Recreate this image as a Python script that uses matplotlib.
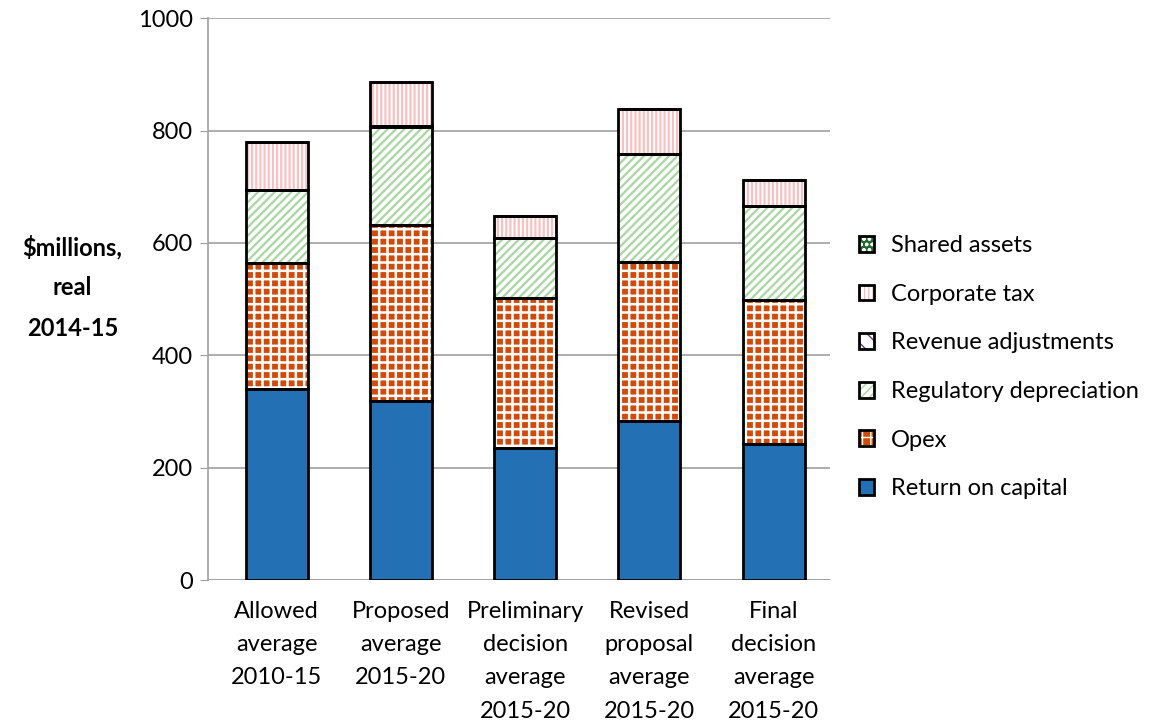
import numpy as np
import matplotlib.pyplot as plt
from matplotlib.legend_handler import HandlerTuple

plt.rcParams['font.family'] = ['Lato', 'DejaVu Sans']

categories = ["Allowed\naverage\n2010-15", "Proposed\naverage\n2015-20",
              "Preliminary\ndecision\naverage\n2015-20", "Revised\nproposal\naverage\n2015-20",
              "Final\ndecision\naverage\n2015-20"]
return_on_capital = [340, 318, 235, 283, 242]
opex = [224, 314, 267, 283, 256]
reg_depreciation = [130, 174, 106, 192, 167]
revenue_adj = [0, 3, 0, 0, 0]
corporate_tax = [85, 77, 40, 80, 47]
shared_assets = [0, 0, 0, 0, 0]

# name, values, facecolor, hatch, hatch colour, hatch width
series = [
    ("Return on capital", return_on_capital, '#2370B5', None, '#2370B5', 1.0),
    ("Opex", opex, '#D24A0A', '++', 'white', 1.8),
    ("Regulatory depreciation", reg_depreciation, 'white', '////', '#A6D8A0', 1.6),
    ("Revenue adjustments", revenue_adj, 'white', '\\\\', '#5B3F8F', 2.0),
    ("Corporate tax", corporate_tax, 'white', '||||', '#F9C0C0', 1.6),
    ("Shared assets", shared_assets, '#1D6B2E', 'ooo', 'white', 1.0),
]

fig = plt.figure(figsize=(11.7, 7.27), dpi=100)
ax = fig.add_axes([0.178, 0.202, 0.531, 0.773])

x = np.arange(len(categories))
bottom = np.zeros(len(categories))
handles = []
for name, vals, fc, hatch, hc, hw in series:
    vals = np.array(vals, dtype=float)
    with plt.rc_context({'hatch.linewidth': hw}):
        ax.bar(x, vals, 0.5, bottom=bottom, color=fc, hatch=hatch, edgecolor=hc, linewidth=0, zorder=2)
        h1 = plt.Rectangle((0, 0), 1, 1, facecolor=fc, hatch=hatch, edgecolor=hc, linewidth=0)
    ax.bar(x, vals, 0.5, bottom=bottom, fill=False, edgecolor='black', linewidth=2, zorder=3)
    h2 = plt.Rectangle((0, 0), 1, 1, fill=False, edgecolor='black', linewidth=2)
    handles.append(((h1, h2), name))
    bottom += vals

ax.set_ylim(0, 1000)
ax.set_xlim(-0.55, 4.45)
ax.set_yticks(range(0, 1001, 200))
ax.yaxis.grid(True, color='#A0A0A0', linewidth=1.2, zorder=0)
ax.set_axisbelow(True)
for s in ['top', 'right', 'bottom']:
    ax.spines[s].set_visible(False)
ax.spines['left'].set_color('#A0A0A0')
ax.spines['left'].set_linewidth(1.2)
ax.tick_params(axis='y', length=6, color='#A0A0A0', labelsize=17, pad=5)
ax.tick_params(axis='x', length=0, labelsize=17, pad=15)
ax.set_xticks(x)
ax.set_xticklabels(categories, linespacing=1.72)
ax.axhline(0, color='#A0A0A0', linewidth=1.2, zorder=1)

fig.text(0.062, 0.605, "\\$millions,\nreal\n2014-15", ha='center', va='center',
         fontsize=17, fontweight='bold', linespacing=1.9)

leg = fig.legend([h for h, n in handles[::-1]], [n for h, n in handles[::-1]],
                 handler_map={tuple: HandlerTuple(ndivide=1)},
                 loc='center left', bbox_to_anchor=(0.716, 0.495), frameon=False,
                 fontsize=17, handlelength=0.65, handleheight=0.65, handletextpad=0.7,
                 labelspacing=1.17)

fig.savefig('out.png', dpi=100)
